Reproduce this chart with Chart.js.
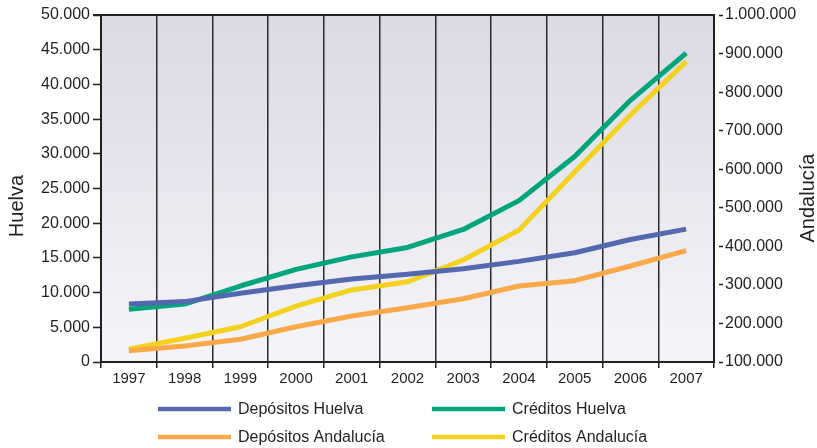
<!DOCTYPE html>
<html>
<head>
<meta charset="utf-8">
<script src="https://cdn.jsdelivr.net/npm/chart.js@4.4.1/dist/chart.umd.min.js"></script>
<style>
  html, body { margin: 0; padding: 0; background: #ffffff; }
  #wrap { width: 817px; height: 448px; }
</style>
</head>
<body>
<div id="wrap"><canvas id="c" width="817" height="448"></canvas></div>
<script>
const years = ['1997','1998','1999','2000','2001','2002','2003','2004','2005','2006','2007'];
const depositosHuelva = [8350, 8700, 9900, 11000, 11950, 12650, 13450, 14500, 15750, 17650, 19150];
const creditosHuelva = [7600, 8350, 10950, 13350, 15150, 16500, 19100, 23250, 29600, 37700, 44500];
const depositosAndalucia = [129000, 141500, 159000, 191500, 219500, 240800, 264000, 297000, 311000, 349000, 389000];
const creditosAndalucia = [133500, 161500, 191500, 245000, 287000, 308000, 364500, 442000, 593000, 740500, 879000];
const seriesLabels = ['Depósitos Huelva', 'Créditos Huelva', 'Depósitos Andalucía', 'Créditos Andalucía'];
const leftTitle = 'Huelva';
const rightTitle = 'Andalucía';

const colors = ['#5468b0', '#00a57c', '#f9a94a', '#f3d11e'];
const dark = '#231f20';
const FONT = "'Liberation Sans', Arial, Helvetica, sans-serif";

function fmt(v) {
  return String(Math.round(v)).replace(/\B(?=(\d{3})+(?!\d))/g, '.');
}

const bgPlugin = {
  id: 'bgPlugin',
  beforeDraw(chart) {
    const { ctx, chartArea: { left, top, right, bottom } } = chart;
    const g = ctx.createLinearGradient(0, top, 0, bottom);
    g.addColorStop(0, '#dbdae5');
    g.addColorStop(1, '#f5f5f9');
    ctx.save();
    ctx.fillStyle = g;
    ctx.fillRect(left, top, right - left, bottom - top);
    ctx.restore();
  },
  afterDraw(chart) {
    const { ctx, chartArea: { left, top, right } } = chart;
    ctx.save();
    ctx.strokeStyle = dark;
    ctx.lineWidth = 2;
    ctx.beginPath();
    ctx.moveTo(left - 8, top);
    ctx.lineTo(right + 1, top);
    ctx.stroke();
    // axis titles, both reading bottom-to-top
    ctx.fillStyle = dark;
    ctx.font = '20px ' + FONT;
    ctx.textAlign = 'center';
    ctx.textBaseline = 'middle';
    [[leftTitle, 17, 206], [rightTitle, 808, 198]].forEach(([t, x, y]) => {
      ctx.save();
      ctx.translate(x, y);
      ctx.rotate(-Math.PI / 2);
      ctx.fillText(t, 0, 0);
      ctx.restore();
    });
    // legend (2 x 2)
    const pos = [[158, 409], [432, 409], [158, 437], [432, 437]];
    ctx.font = '16px ' + FONT;
    ctx.textBaseline = 'middle';
    ctx.textAlign = 'left';
    chart.data.datasets.forEach((ds, i) => {
      const [x, y] = pos[i];
      ctx.strokeStyle = ds.borderColor;
      ctx.lineWidth = 4.5;
      ctx.beginPath();
      ctx.moveTo(x, y);
      ctx.lineTo(x + 73, y);
      ctx.stroke();
      ctx.fillStyle = dark;
      ctx.fillText(ds.label, x + 80, y + 1);
    });
    ctx.restore();
  }
};

const ds = (label, data, color, axis) => ({
  label, data, yAxisID: axis,
  borderColor: color, backgroundColor: color,
  borderWidth: 5, pointRadius: 0, tension: 0, fill: false,
  borderJoinStyle: 'round'
});

new Chart(document.getElementById('c'), {
  type: 'line',
  data: {
    labels: years,
    datasets: [
      ds(seriesLabels[0], depositosHuelva, colors[0], 'y'),
      ds(seriesLabels[1], creditosHuelva, colors[1], 'y'),
      ds(seriesLabels[2], depositosAndalucia, colors[2], 'y1'),
      ds(seriesLabels[3], creditosAndalucia, colors[3], 'y1')
    ]
  },
  options: {
    responsive: false,
    animation: false,
    events: [],
    layout: { padding: { top: 15, bottom: 56, left: 0, right: 0 } },
    plugins: { legend: { display: false }, tooltip: { enabled: false } },
    scales: {
      x: {
        offset: true,
        grid: { display: true, offset: true, drawOnChartArea: true, color: '#2b2b2b', lineWidth: 1.5, tickLength: 6, tickColor: dark, tickWidth: 1.5 },
        border: { display: true, color: dark, width: 2 },
        ticks: { color: dark, font: { family: FONT, size: 15 }, padding: 2, maxRotation: 0, autoSkip: false },
        afterFit(s) { s.height = 30; }
      },
      y: {
        position: 'left',
        min: 0, max: 50000,
        ticks: { stepSize: 5000, color: dark, font: { family: FONT, size: 16 }, padding: 3, callback: v => fmt(v) },
        grid: { display: true, drawOnChartArea: false, tickLength: 8, tickColor: dark, tickWidth: 1.5 },
        border: { display: true, color: dark, width: 2 },
        afterFit(s) { s.width = 101; }
      },
      y1: {
        position: 'right',
        min: 100000, max: 1000000,
        ticks: { stepSize: 100000, color: dark, font: { family: FONT, size: 16 }, padding: 2, callback: v => fmt(v) },
        grid: { display: true, drawOnChartArea: false, tickLength: 9, tickColor: dark, tickWidth: 1.5, tickBorderDash: [0, 4, 5, 0] },
        border: { display: true, color: dark, width: 2 },
        afterFit(s) { s.width = 103; }
      }
    }
  },
  plugins: [bgPlugin]
});
</script>
</body>
</html>
